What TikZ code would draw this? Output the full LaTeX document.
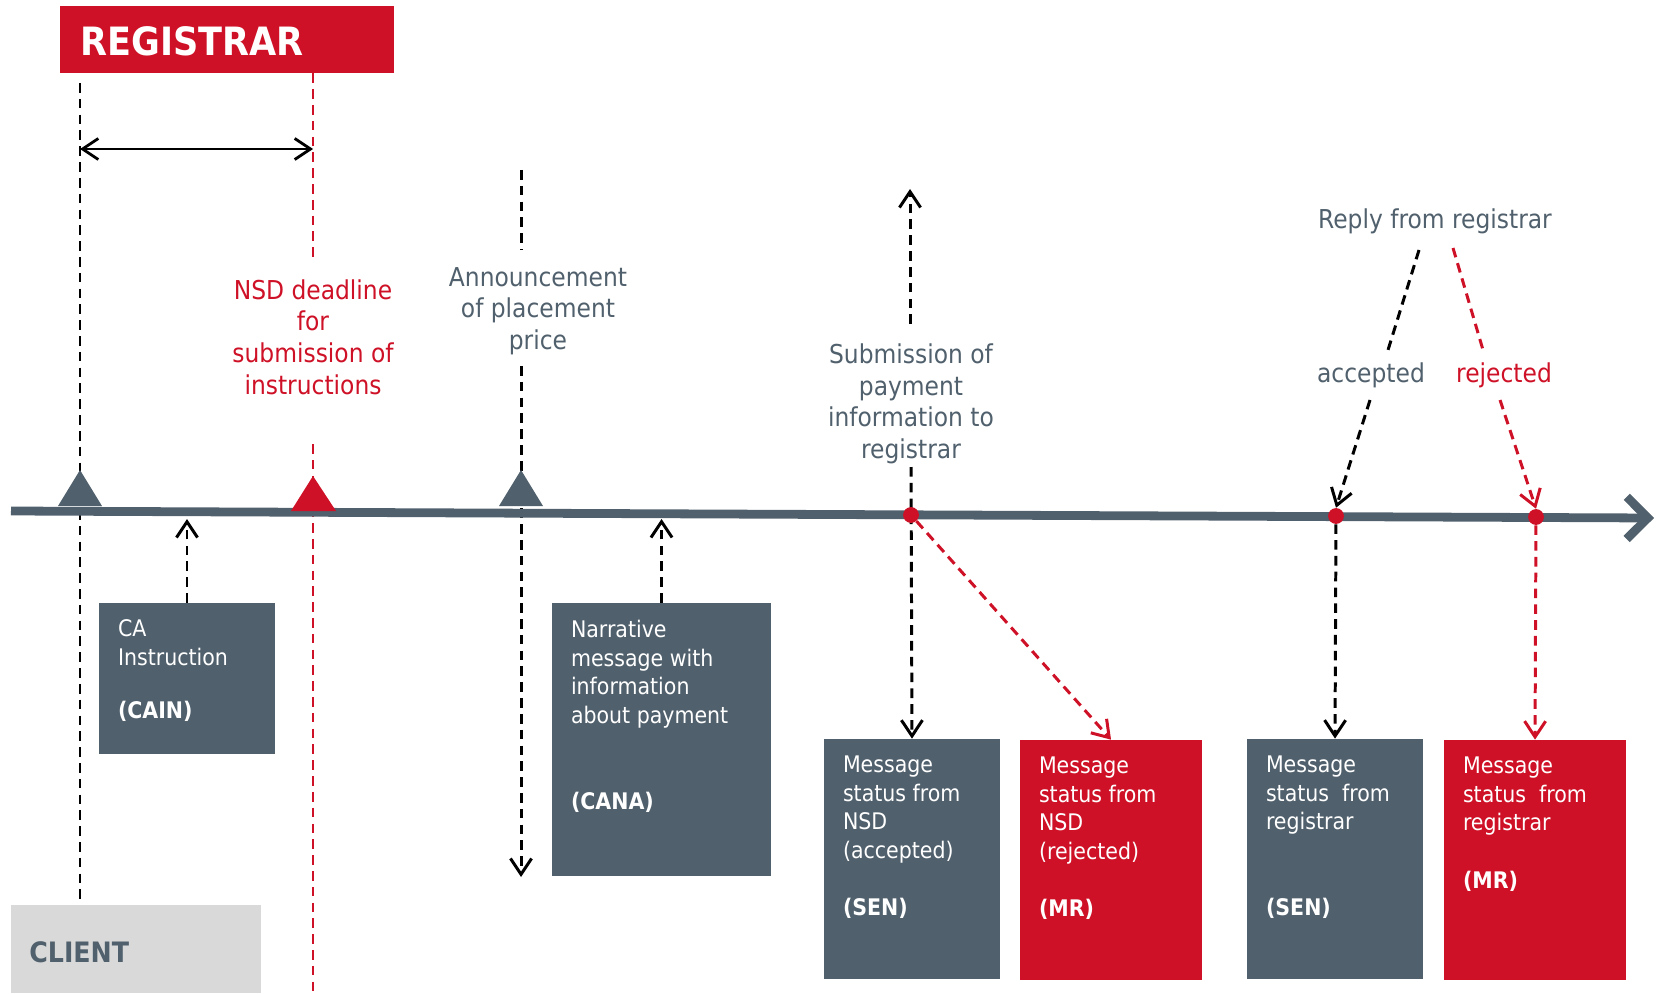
\documentclass[tikz,border=0pt]{standalone}
\usepackage{fontspec}
\setmainfont{DejaVu Sans Condensed}
\usetikzlibrary{arrows.meta,fit,calc}
\definecolor{slate}{HTML}{50606C}
\definecolor{nsdred}{HTML}{CE1126}
\definecolor{clientgray}{HTML}{D9D9D9}
\tikzset{
  lbl/.style={text=slate, font=\fontsize{14.8}{18}\selectfont, align=center, inner sep=0pt},
  redlbl/.style={lbl, text=nsdred},
  boxtxt/.style={text=white, font=\fontsize{13}{16.3}\selectfont, align=left, anchor=north west, inner sep=0pt},
  greybox/.style={fill=slate, inner sep=0pt},
  redbox/.style={fill=nsdred, inner sep=0pt},
  dashline/.style={line width=1.7pt, dash pattern=on 5.5pt off 3.5pt},
  reddot/.style={circle, fill=nsdred, minimum size=9pt, inner sep=0pt},
}

\begin{document}
\begin{tikzpicture}[x=0.02cm, y=-0.02cm, >={Straight Barb[length=9pt,width=12pt]}]
    \useasboundingbox (0,0) rectangle (1665,993);
    % parties
    \node[redbox, fit={(60,6) (394,73)}] (reg) {};
    \node[anchor=west, inner sep=0pt, text=white, font=\fontsize{22.2}{26}\selectfont\bfseries] (reg-t) at (80,41) {REGISTRAR};
    \node[fill=clientgray, inner sep=0pt, fit={(11,905) (261,993)}] (client) {};
    \node[anchor=west, inner sep=0pt, text=slate, font=\fontsize{16}{18}\selectfont\bfseries] (client-t) at (29,952) {CLIENT};

    \coordinate (tl-a) at (11,511);
    \coordinate (tl-b) at (1654,518);
    \coordinate (tl-low) at (0,519);

    % message boxes
    \node[greybox, fit={(99,603) (275,754)}] (cain) {};
    \node[greybox, fit={(552,603) (771,876)}] (cana) {};
    \node[greybox, fit={(824,739) (1000,979)}] (sen1) {};
    \node[redbox, fit={(1020,740) (1202,980)}] (mr1) {};
    \node[greybox, fit={(1247,739) (1423,979)}] (sen2) {};
    \node[redbox, fit={(1444,740) (1626,980)}] (mr2) {};

    % dots on the time line
    \coordinate (dot-sub-p) at (911,515);
    \coordinate (dot-acc-p) at (1336,516);
    \coordinate (dot-rej-p) at (1536,517);

    % vertical guides
    \coordinate (ca-top) at (80,83);
    \draw[dashline] (ca-top) -- (ca-top |- client.north);
    \coordinate (dl-a) at (313,260);
    \coordinate (dl-b) at (313,444);
    \coordinate (dl-c) at (313,993);
    \draw[dashline, nsdred] (reg.south -| dl-a) -- (dl-a);
    \draw[dashline, nsdred] (dl-b) -- (dl-c);
    \coordinate (win-a) at (80,149);
    \coordinate (win-b) at (313,149);
    \draw[line width=1.6pt, <->, >={Straight Barb[length=9pt,width=12pt]}] (win-a) -- (win-b);

    \coordinate (ann-a) at (521,170);
    \coordinate (ann-b) at (521,250);
    \coordinate (ann-c) at (521,366);
    \coordinate (ann-d) at (521,877);
    \draw[dashline] (ann-a) -- (ann-b);
    \draw[dashline, ->] (ann-c) -- (ann-d);

    \coordinate (sub-a) at (910,324);
    \coordinate (sub-b) at (910,189);
    \coordinate (sub-c) at (911,467);
    \draw[dashline, ->] (sub-a) -- (sub-b);
    \draw[dashline, ->] (sub-c) -- (sen1.north);

    \draw[dashline, ->] (cain.north) -- (cain.north |- tl-low);
    \draw[dashline, ->] (cana.north) -- (cana.north |- tl-low);

    % time line
    \draw[line width=5pt, slate, -{Straight Barb[length=12pt,width=24pt]}] (tl-a) -- (tl-b);
    \fill[slate] (58,506) -- (102,506) -- (80,470) -- cycle;
    \fill[nsdred] (291,511) -- (336,511) -- (313,476) -- cycle;
    \fill[slate] (499,506) -- (543,506) -- (521,470) -- cycle;

    \node[reddot] (dot-sub) at (dot-sub-p) {};
    \node[reddot] (dot-acc) at (dot-acc-p) {};
    \node[reddot] (dot-rej) at (dot-rej-p) {};

    \draw[dashline, nsdred, ->] (dot-sub) -- (mr1.north);
    \draw[dashline, ->] (dot-acc) -- (sen2.north);
    \draw[dashline, nsdred, ->] (dot-rej) -- (mr2.north);

    % labels
    \node[redlbl] (nsd) at (313,337) {NSD deadline\\for\\submission of\\instructions};
    \node[lbl] (ann) at (538,311) {Announcement\\of placement\\price};
    \node[lbl] (sub) at (911,404) {Submission of\\payment\\information to\\registrar};
    \node[lbl] (reply) at (1435,221) {Reply from registrar};
    \node[lbl] (acc) at (1371,375) {accepted};
    \node[redlbl] (rej) at (1504,375) {rejected};

    \coordinate (acc-a) at (1419,250);
    \coordinate (acc-b) at (1388,350);
    \coordinate (acc-c) at (1370,400);
    \draw[dashline] (acc-a) -- (acc-b);
    \draw[dashline, ->] (acc-c) -- (dot-acc.north);
    \coordinate (rej-a) at (1453,248);
    \coordinate (rej-b) at (1483,350);
    \coordinate (rej-c) at (1500,400);
    \draw[dashline, nsdred] (rej-a) -- (rej-b);
    \draw[dashline, nsdred, ->] (rej-c) -- (dot-rej.north);

    % box texts
    \node[boxtxt] (cain-t) at ($(cain.north west)+(19,17)$) {CA\\Instruction\\[14pt]\textbf{(CAIN)}};
    \node[boxtxt] (cana-t) at ($(cana.north west)+(19,17)$) {Narrative\\message with\\information\\about payment\\[32.6pt]\textbf{(CANA)}};
    \node[boxtxt] (sen1-t) at ($(sen1.north west)+(19,17)$) {Message\\status from\\NSD\\(accepted)\\[16.3pt]\textbf{(SEN)}};
    \node[boxtxt] (mr1-t) at ($(mr1.north west)+(19,17)$) {Message\\status from\\NSD\\(rejected)\\[16.3pt]\textbf{(MR)}};
    \node[boxtxt] (sen2-t) at ($(sen2.north west)+(19,17)$) {Message\\status~~from\\registrar\\[32.6pt]\textbf{(SEN)}};
    \node[boxtxt] (mr2-t) at ($(mr2.north west)+(19,17)$) {Message\\status~~from\\registrar\\[16.3pt]\textbf{(MR)}};
\end{tikzpicture}
\end{document}
